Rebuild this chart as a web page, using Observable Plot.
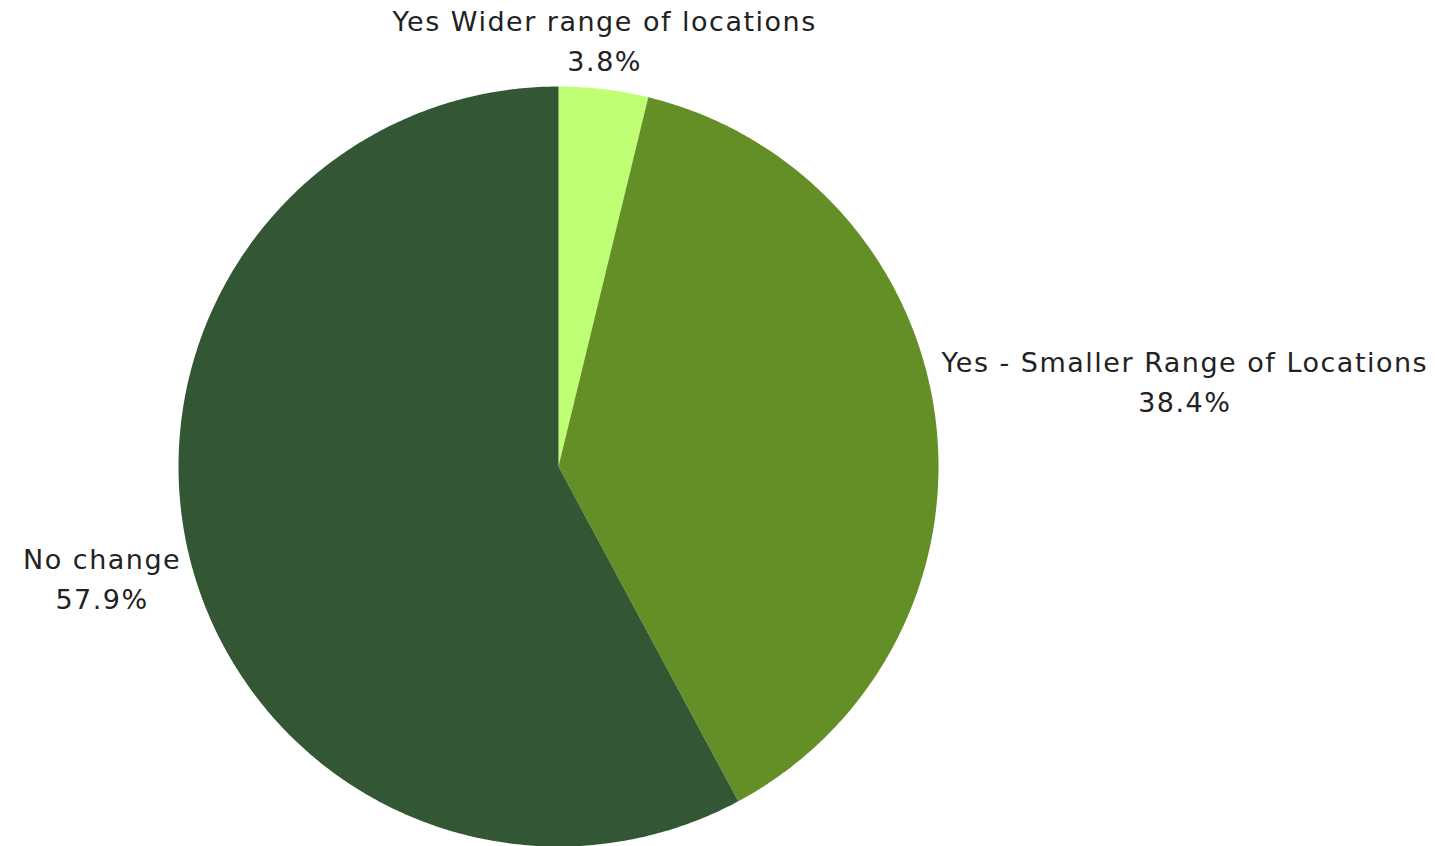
<!DOCTYPE html>
<html>
<head>
<meta charset="utf-8">
<script src="https://cdn.jsdelivr.net/npm/d3@7"></script>
<script src="https://cdn.jsdelivr.net/npm/@observablehq/plot@0.6"></script>
<style>
  html, body { margin: 0; padding: 0; background: #fff; }
  #chart svg { display: block; }
  #chart svg text { letter-spacing: 1.5px; }
</style>
</head>
<body>
<div id="chart"></div>
<script>
// Data
const categories = ["Yes Wider range of locations", "Yes - Smaller Range of Locations", "No change"];
const percents = [3.8, 38.4, 57.9];
const colors = ["#bfff73", "#648e26", "#335735"];

// Layout (pixels)
const W = 1435, H = 846;
const cx = 558, cy = 466, R = 380;
const FONT = "'DejaVu Sans', sans-serif";
const FS = 27;
const LS = 1.5;

// Slice geometry from d3.pie (starting at 12 o'clock, clockwise, data order)
const pie = d3.pie().sort(null).value(d => d.value);
const arcs = pie(categories.map((c, i) => ({name: c, value: percents[i], color: colors[i]})));

const polyPts = [];
arcs.forEach(a => {
  const n = Math.max(4, Math.ceil((a.endAngle - a.startAngle) / (Math.PI / 360)));
  polyPts.push({name: a.data.name, x: 0, y: 0});
  for (let k = 0; k <= n; k++) {
    const t = a.startAngle + (a.endAngle - a.startAngle) * k / n;
    polyPts.push({name: a.data.name, x: R * Math.sin(t), y: R * Math.cos(t)});
  }
  polyPts.push({name: a.data.name, x: 0, y: 0});
});

// Text measurement for label blocks
const ctx = document.createElement("canvas").getContext("2d");
ctx.font = `${FS}px ${FONT}`;
const measure = t => ctx.measureText(t).width + LS * t.length;

// Label anchor points
const labels = arcs.map(a => {
  const m = (a.startAngle + a.endAngle) / 2;
  const s = Math.sin(m), c = Math.cos(m);
  const side = Math.abs(s) < 0.5 ? "middle" : (s > 0 ? "right" : "left");
  const line2 = a.data.value.toFixed(1) + "%";
  const w = Math.max(measure(a.data.name), measure(line2));
  const rr = side === "middle" ? R + 8 : R + 6;
  let x = rr * s;
  if (side === "right") x += w / 2;
  if (side === "left") x -= w / 2 + 3;
  return {
    name: a.data.name,
    text: a.data.name + "\n" + line2,
    x,
    y: rr * c,
    side,
    vert: side === "middle" ? (c > 0 ? "bottom" : "top") : "middle"
  };
});

const textMarks = labels.map(l => Plot.text([l], {
  x: "x", y: "y", text: "text",
  textAnchor: "middle",
  lineAnchor: l.vert,
  lineHeight: 1.48,
  dy: l.side === "middle" ? -10 : (l.side === "right" ? -38 : 16),
  fontSize: FS,
  fill: "#222222",
  fontFamily: FONT
}));

const chart = Plot.plot({
  width: W,
  height: H,
  margin: 0,
  x: {domain: [-cx, W - cx], range: [0, W], axis: null},
  y: {domain: [-(H - cy), cy], range: [H, 0], axis: null},
  color: {domain: categories, range: colors},
  style: {background: "#ffffff", fontFamily: FONT},
  marks: [
    Plot.line(polyPts, {x: "x", y: "y", z: "name", fill: "name", stroke: null, curve: "linear"}),
    ...textMarks
  ]
});

document.getElementById("chart").appendChild(chart);
</script>
</body>
</html>
